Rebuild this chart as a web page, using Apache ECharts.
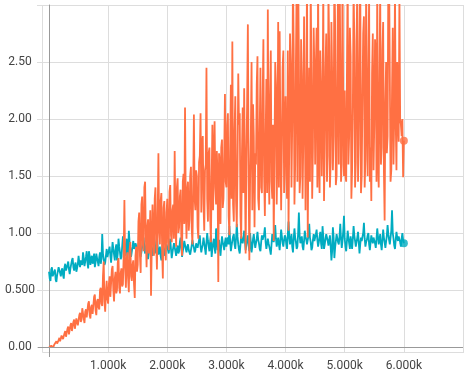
<!DOCTYPE html>
<html>
<head>
<meta charset="utf-8">
<script src="https://cdn.jsdelivr.net/npm/echarts@6/dist/echarts.min.js"></script>
<style>
  html, body { margin: 0; padding: 0; background: #fff; }
  #chart { width: 466px; height: 379px; }
</style>
</head>
<body>
<div id="chart"></div>
<script>
  // last logged step, points are evenly spaced from 0 up to it
  const LAST_STEP = 6000;

  // tick labels
  const xTickLabels = ['', '1.000k', '2.000k', '3.000k', '4.000k', '5.000k', '6.000k', ''];
  const yTickLabels = ['0.00', '0.500', '1.00', '1.50', '2.00', '2.50', ''];

  // teal run (two rows per 500 steps)
  const tealValues = [
    0.66,0.60,0.58,0.68,0.70,0.62,0.61,0.66,0.68,0.59,0.57,0.63,0.64,0.70,0.71,0.65,0.62,0.67,0.69,0.63,
    0.60,0.70,0.73,0.67,0.66,0.72,0.75,0.68,0.64,0.69,0.70,0.76,0.78,0.70,0.67,0.72,0.74,0.66,0.69,0.73,
    0.80,0.74,0.70,0.76,0.77,0.72,0.83,0.78,0.71,0.75,0.79,0.84,0.74,0.69,0.84,0.80,0.72,0.77,0.80,0.73,
    0.76,0.82,0.70,0.74,0.82,0.78,0.75,0.71,0.79,0.83,0.73,0.77,0.99,0.82,0.77,0.72,0.74,0.80,0.86,0.79,
    0.78,0.85,0.88,0.80,0.74,0.83,0.92,0.86,0.81,0.76,0.86,0.90,0.76,0.82,0.95,0.88,0.83,0.77,0.79,0.88,
    0.97,0.90,0.84,0.80,0.90,0.95,0.78,0.84,1.02,0.92,0.86,0.79,0.80,0.88,0.93,0.86,0.85,0.91,0.89,0.83,
    0.84,0.90,0.92,0.85,0.79,0.83,0.88,0.94,0.96,0.87,0.82,0.88,0.90,0.83,0.77,0.82,0.86,0.91,0.93,0.85,
    0.80,0.86,0.89,0.82,0.84,0.92,0.97,0.88,0.81,0.84,0.88,0.80,0.76,0.85,0.91,0.87,0.85,0.80,0.87,0.90,
    0.90,0.85,0.82,0.89,0.95,0.86,0.78,0.83,0.87,0.91,0.92,0.84,0.80,0.86,0.89,0.82,0.84,0.92,0.96,0.87,
    0.79,0.84,0.88,0.93,0.93,0.86,0.83,0.88,0.90,0.85,0.86,0.81,0.81,0.89,0.94,0.90,0.87,0.83,0.85,0.91,
    0.92,0.87,0.86,0.94,0.98,0.88,0.83,0.87,0.90,0.96,0.95,0.86,0.81,0.92,1.00,0.93,0.88,0.84,0.93,0.98,
    0.79,0.86,0.91,0.95,0.87,0.82,1.04,0.96,0.85,0.90,0.94,0.86,0.80,0.89,0.97,0.92,0.89,0.85,0.92,0.96,
    0.88,0.93,0.96,0.90,1.06,0.94,0.84,0.89,0.93,0.97,0.99,0.90,0.86,0.95,1.08,0.97,0.90,0.85,0.82,0.90,
    0.97,0.93,0.91,0.96,1.02,0.93,0.85,0.90,0.94,0.98,0.89,0.84,1.00,0.92,0.83,0.88,0.95,0.99,0.92,0.87,
    0.87,0.95,1.01,0.94,0.91,0.86,0.84,0.92,0.98,0.94,0.93,0.99,1.05,0.92,0.86,0.90,0.95,0.91,0.90,0.85,
    0.81,0.90,0.99,0.95,0.92,0.98,1.07,0.95,0.88,0.92,0.96,0.90,0.85,0.94,1.03,0.97,0.91,0.88,0.94,0.98,
    0.96,0.90,0.86,0.98,1.10,0.97,0.90,0.94,0.99,0.88,0.83,0.95,1.04,0.96,0.92,0.86,0.88,1.00,1.18,0.98,
    0.91,0.94,0.97,0.88,0.85,0.93,1.02,0.97,0.94,0.90,0.89,0.98,1.08,0.96,0.92,0.85,0.87,0.94,0.99,0.93,
    0.93,0.99,1.03,0.94,0.88,0.92,0.97,1.01,0.91,0.86,1.06,0.97,0.86,0.90,0.95,0.99,1.00,0.93,0.89,0.94,
    0.98,0.88,0.76,0.84,1.05,0.96,0.78,0.87,0.93,0.99,0.99,0.92,0.90,0.97,1.08,0.95,0.87,0.93,1.02,1.15,
    0.95,0.88,0.84,0.93,1.02,0.96,0.91,0.86,0.97,0.92,0.86,0.95,1.06,0.98,0.93,0.88,0.89,0.96,1.01,0.92,
    0.82,0.90,0.96,0.93,0.92,1.00,1.09,0.95,0.88,0.92,0.94,0.98,1.00,0.90,0.85,0.92,0.98,0.94,0.91,0.96,
    0.96,0.91,0.87,0.95,1.04,0.97,0.90,0.94,0.99,0.90,0.85,0.93,1.03,0.96,0.92,0.87,0.88,0.98,1.07,0.99,
    0.94,0.90,0.89,1.02,1.20,1.00,0.95,0.89,0.86,0.94,1.01,0.96,0.93,0.97,0.97,0.92,0.88,0.95,1.00,0.94,
    0.91
  ];

  // orange run (spikes above ~3 are cut off in the picture, their tops are estimates)
  const orangeValues = [
    0.00,0.00,0.00,0.01,0.01,0.00,0.00,0.02,0.03,0.02,0.05,0.03,0.02,0.06,0.08,0.05,0.06,0.10,0.11,0.07,
    0.07,0.12,0.14,0.09,0.10,0.16,0.18,0.11,0.12,0.19,0.21,0.14,0.15,0.22,0.24,0.16,0.17,0.25,0.26,0.19,
    0.20,0.28,0.30,0.22,0.24,0.34,0.35,0.25,0.21,0.31,0.33,0.26,0.27,0.38,0.40,0.28,0.25,0.35,0.37,0.29,
    0.30,0.44,0.46,0.32,0.28,0.40,0.42,0.35,0.33,0.50,0.52,0.38,0.36,0.62,0.75,0.40,0.31,0.48,0.58,0.42,
    0.38,0.55,0.62,0.44,0.45,0.68,0.71,0.50,0.40,0.60,0.66,0.47,0.50,0.74,0.78,0.52,0.47,0.65,0.69,0.53,
    0.55,0.80,1.29,0.70,0.52,0.76,0.83,0.60,0.48,0.85,0.92,0.62,0.58,0.72,0.76,0.55,0.43,0.80,0.88,0.66,
    0.72,1.10,1.18,0.80,0.65,1.25,1.32,0.90,0.84,1.40,1.45,0.95,0.70,1.05,1.12,0.82,0.95,1.20,0.45,0.88,
    1.25,0.98,0.80,1.30,1.40,0.92,0.68,1.15,1.70,1.02,0.90,1.28,1.35,0.85,0.60,1.22,1.28,0.88,0.76,1.18,
    1.30,0.92,0.85,1.36,1.42,0.98,0.92,1.20,1.25,0.95,1.72,1.10,0.88,1.40,1.48,1.00,1.05,1.32,1.38,0.94,
    0.80,1.45,1.52,1.08,2.10,1.25,0.95,1.38,1.45,1.02,1.12,1.50,1.58,1.05,0.90,1.35,2.04,1.30,1.20,1.55,
    1.50,1.05,0.95,1.62,1.68,2.05,1.18,1.78,1.85,1.25,1.02,1.55,1.60,2.45,1.30,1.10,1.70,1.75,1.15,0.92,
    1.45,1.95,1.20,1.68,1.98,1.40,1.25,1.72,1.50,0.57,1.70,1.62,1.08,1.75,1.82,1.22,1.30,1.68,2.22,1.45,
    1.40,1.95,2.05,1.15,0.98,1.70,2.30,1.30,2.68,1.25,1.10,1.90,2.20,1.28,1.05,1.55,2.40,1.95,2.05,1.15,
    0.95,1.70,2.10,1.35,2.27,1.55,0.82,1.65,2.15,2.83,1.45,0.76,1.45,1.85,2.50,1.20,2.13,1.85,1.05,1.70,
    1.60,2.30,2.55,1.30,1.20,1.88,2.45,1.40,1.35,2.18,2.70,1.50,1.15,1.80,2.35,1.35,2.96,1.65,1.25,2.20,
    2.60,1.45,1.30,1.95,0.93,1.70,2.50,2.30,1.25,1.72,2.85,1.40,2.77,1.85,1.20,1.75,2.45,2.60,1.35,1.90,
    2.20,1.50,1.30,2.60,1.02,1.80,2.75,2.48,1.40,1.95,3.25,2.62,1.25,1.60,2.50,3.20,1.45,3.30,2.55,1.35,
    1.50,2.70,2.38,1.30,1.82,2.90,2.10,1.20,2.05,3.25,0.96,1.90,2.45,1.45,3.20,2.35,1.30,1.75,2.80,2.42,
    1.60,2.45,2.80,1.40,3.25,1.65,1.35,2.60,2.28,1.50,1.95,3.20,1.28,1.75,2.45,2.75,1.45,1.68,3.10,2.65,
    1.40,1.62,2.85,2.38,1.55,1.85,3.30,2.85,1.42,1.50,2.40,3.25,1.60,3.40,2.58,1.45,1.60,3.35,2.10,1.50,
    2.25,1.50,1.45,2.40,3.30,1.60,1.85,2.80,2.55,1.30,1.55,2.10,3.15,2.70,1.40,1.62,2.65,3.20,1.45,1.78,
    2.60,3.35,1.35,1.50,2.20,2.75,2.90,1.40,1.65,3.20,2.05,1.50,2.35,3.10,1.45,1.75,1.28,2.40,2.75,1.55,
    1.95,2.70,2.55,1.45,3.20,1.65,1.40,2.30,3.15,1.60,1.75,2.60,2.85,1.55,1.11,2.15,2.50,1.70,1.85,3.25,
    3.30,2.40,1.45,1.55,2.25,2.80,1.60,2.05,3.15,1.98,1.55,2.50,2.02,1.80,3.10,2.00,1.95,1.85,2.00,1.49,
    1.81
  ];

  const TEAL = '#00acc1';
  const ORANGE = '#ff7043';

  // pair every value with its step
  function toPoints(values) {
    const step = LAST_STEP / (values.length - 1);
    return values.map((v, i) => [i * step, v]);
  }
  const tealData = toPoints(tealValues);
  const orangeData = toPoints(orangeValues);

  const chart = echarts.init(document.getElementById('chart'));
  chart.setOption({
    animation: false,
    backgroundColor: '#fff',
    grid: { left: 49, right: 3, top: 5, bottom: 32 },
    xAxis: {
      type: 'value',
      min: 0,
      max: 7000,
      interval: 1000,
      axisLine: { show: false },
      axisTick: { show: true, length: 6, lineStyle: { color: '#ddd' } },
      splitLine: { show: true, lineStyle: { color: '#ddd', width: 1 } },
      axisLabel: {
        margin: 13,
        color: '#444',
        fontFamily: 'Roboto',
        fontSize: 12,
        formatter: (v, i) => xTickLabels[i] || ''
      }
    },
    yAxis: {
      type: 'value',
      min: 0,
      max: 3,
      interval: 0.5,
      axisLine: { show: true, lineStyle: { color: '#999', width: 1 } },
      axisTick: { show: true, length: 12, lineStyle: { color: '#ddd' } },
      splitLine: { show: true, lineStyle: { color: '#ddd', width: 1 } },
      axisLabel: {
        margin: 29,
        align: 'center',
        color: '#444',
        fontFamily: 'Roboto',
        fontSize: 12,
        formatter: (v, i) => yTickLabels[i] || ''
      }
    },
    graphic: [
      // outer frame of the plot (left and bottom)
      { type: 'line', silent: true, z: 0, shape: { x1: 42.5, y1: 5, x2: 42.5, y2: 352.5 }, style: { stroke: '#ddd', lineWidth: 1 } },
      { type: 'line', silent: true, z: 0, shape: { x1: 42.5, y1: 352.5, x2: 463, y2: 352.5 }, style: { stroke: '#ddd', lineWidth: 1 } },
      // axis line at y = 0 and the stub of the y axis below it
      { type: 'line', silent: true, z: 5, shape: { x1: 38, y1: 347.5, x2: 463, y2: 347.5 }, style: { stroke: '#999', lineWidth: 1 } },
      { type: 'line', silent: true, z: 5, shape: { x1: 49.5, y1: 347, x2: 49.5, y2: 357 }, style: { stroke: '#999', lineWidth: 1 } }
    ],
    series: [
      {
        name: 'teal',
        type: 'line',
        data: tealData,
        symbol: 'none',
        lineStyle: { color: TEAL, width: 1.8 },
        z: 2
      },
      {
        name: 'orange',
        type: 'line',
        data: orangeData,
        symbol: 'none',
        lineStyle: { color: ORANGE, width: 1.8 },
        z: 3
      },
      {
        name: 'teal-last',
        type: 'scatter',
        data: [tealData[tealData.length - 1]],
        symbolSize: 8,
        itemStyle: { color: TEAL },
        z: 4
      },
      {
        name: 'orange-last',
        type: 'scatter',
        data: [orangeData[orangeData.length - 1]],
        symbolSize: 8,
        itemStyle: { color: ORANGE },
        z: 4
      }
    ]
  });
</script>
</body>
</html>
